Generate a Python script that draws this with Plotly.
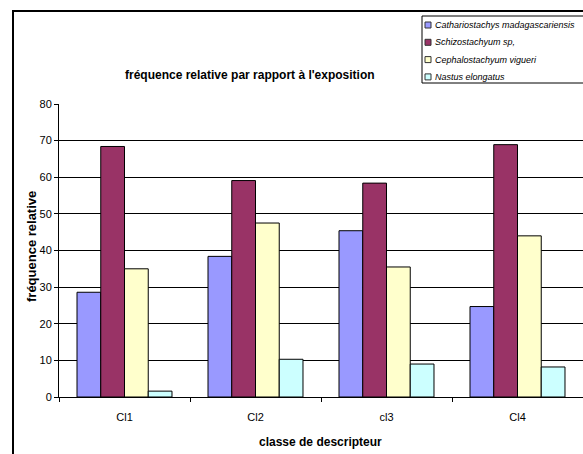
import plotly.graph_objects as go

# Data
categories = ["Cl1", "Cl2", "cl3", "Cl4"]
series_names = [
    "Cathariostachys madagascariensis",
    "Schizostachyum sp,",
    "Cephalostachyum vigueri",
    "Nastus elongatus",
]
cathariostachys = [28.6, 38.4, 45.4, 24.7]
schizostachyum = [68.4, 59.1, 58.4, 68.9]
cephalostachyum = [35.0, 47.5, 35.5, 44.0]
nastus = [1.6, 10.3, 9.0, 8.2]
y_ticks = [0, 10, 20, 30, 40, 50, 60, 70, 80]

series_values = [cathariostachys, schizostachyum, cephalostachyum, nastus]
colors = ["#9999FF", "#993366", "#FFFFCC", "#CCFFFF"]

W, H = 583, 454
ML, MR, MT, MB = 59, 0, 104, 57
PW, PH = W - ML - MR, H - MT - MB


def px(x):
    return (x - ML) / PW


def py(y):
    return (H - MB - y) / PH


FONT = "Liberation Sans, Arial, sans-serif"

fig = go.Figure()
for name, vals, col in zip(series_names, series_values, colors):
    fig.add_trace(go.Bar(
        x=categories, y=vals, name=name,
        marker=dict(color=col, line=dict(color="#000000", width=1)),
        showlegend=False,
    ))

shapes = []
annotations = []

# outer frame (left and top edges)
shapes.append(dict(type="line", xref="paper", yref="paper",
                   x0=px(13), x1=px(13), y0=py(H + 10), y1=py(11),
                   line=dict(color="#000000", width=2)))
shapes.append(dict(type="line", xref="paper", yref="paper",
                   x0=px(12), x1=px(W + 10), y0=py(11), y1=py(11),
                   line=dict(color="#000000", width=2)))

# legend box
shapes.append(dict(type="rect", xref="paper", yref="paper",
                   x0=px(422), x1=px(W + 10), y0=py(83), y1=py(16),
                   line=dict(color="#000000", width=1), fillcolor="#FFFFFF"))
for i, (name, col) in enumerate(zip(series_names, colors)):
    yc = 25 + 17.3 * i
    shapes.append(dict(type="rect", xref="paper", yref="paper",
                       x0=px(425), x1=px(431), y0=py(yc + 3), y1=py(yc - 3),
                       line=dict(color="#333333", width=1), fillcolor=col))
    annotations.append(dict(text=name, xref="paper", yref="paper",
                            x=px(433), y=py(yc), xanchor="left", yanchor="middle",
                            showarrow=False,
                            font=dict(family=FONT, size=9, color="#000000",
                                      style="italic")))

# chart title
annotations.append(dict(text="<b>fréquence relative par rapport à l'exposition</b>",
                        xref="paper", yref="paper", x=px(250), y=py(75),
                        xanchor="center", yanchor="middle", showarrow=False,
                        font=dict(family=FONT, size=12, color="#000000")))
# axis titles
annotations.append(dict(text="<b>fréquence relative</b>",
                        xref="paper", yref="paper", x=px(31), y=py(247),
                        xanchor="center", yanchor="middle", showarrow=False,
                        textangle=-90,
                        font=dict(family=FONT, size=13, color="#000000")))
annotations.append(dict(text="<b>classe de descripteur</b>",
                        xref="paper", yref="paper", x=px(320), y=py(442),
                        xanchor="center", yanchor="middle", showarrow=False,
                        font=dict(family=FONT, size=12, color="#000000")))

fig.update_layout(
    width=W, height=H,
    margin=dict(l=ML, r=MR, t=MT, b=MB, pad=0),
    paper_bgcolor="#FFFFFF", plot_bgcolor="#FFFFFF",
    barmode="group", bargap=0.275, bargroupgap=0,
    showlegend=False,
    shapes=shapes, annotations=annotations,
    font=dict(family=FONT, size=11, color="#000000"),
    xaxis=dict(showline=True, linecolor="#000000", linewidth=1,
               ticks="outside", ticklen=4, tickcolor="#000000",
               tickson="boundaries", showgrid=False, ticklabelstandoff=10,
               tickfont=dict(family=FONT, size=11, color="#000000")),
    yaxis=dict(range=[0, 80], tickvals=y_ticks, showline=True,
               linecolor="#000000", linewidth=1, ticks="outside", ticklen=4,
               tickcolor="#000000", showgrid=True, gridcolor="#000000",
               gridwidth=1, zeroline=False,
               tickfont=dict(family=FONT, size=11, color="#000000")),
)

fig.write_html("out.html")
